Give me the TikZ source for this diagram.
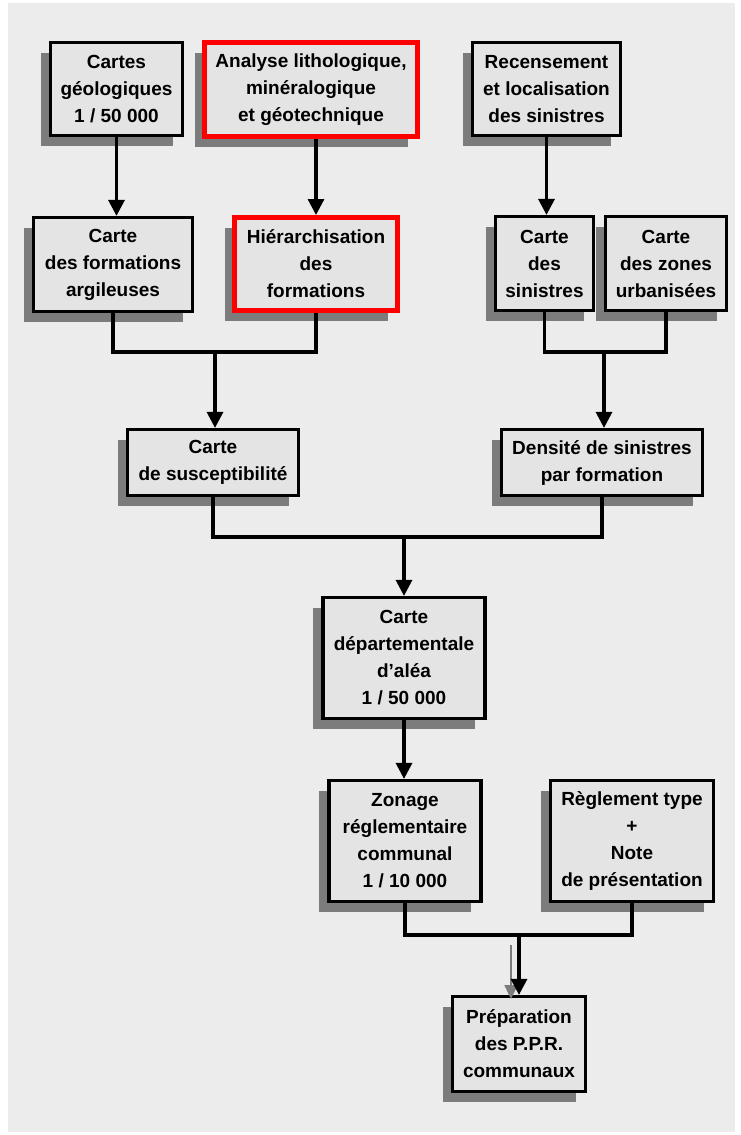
\documentclass[tikz,border=0pt]{standalone}
\usepackage{fontspec}
\setmainfont{Liberation Sans}
\usepackage{xcolor}
\usepackage{tikz}
\usetikzlibrary{arrows.meta,shadows,positioning}

\definecolor{fond}{HTML}{ECECEC}
\definecolor{boite}{HTML}{E4E4E4}
\definecolor{ombre}{HTML}{7C7C7C}

\begin{document}
\begin{tikzpicture}[x=1pt, y=-1pt,
  box/.style={rectangle, draw, line width=3.2pt, fill=boite,
              font=\fontsize{19}{27}\selectfont\bfseries, align=center,
              inner sep=2pt,
              drop shadow={shadow xshift=-10pt, shadow yshift=-10pt,
                           fill=ombre, opacity=1}},
  redbox/.style={box, draw=red, line width=5pt},
  lien/.style={line width=3.2pt},
  arr/.style={lien, -{Triangle[width=16pt,length=16pt]}}
]
\useasboundingbox (0,0) rectangle (740,1135);
\fill[fond] (8,3) rectangle (735,1132);

\node[box, minimum width=132pt, minimum height=93pt] (geo) at (116.5,89) {
  Cartes\\
  géologiques\\
  1 / 50 000
};
\node[redbox, minimum width=213pt, minimum height=94pt] (analyse) at (311,89.5) {
  Analyse lithologique,\\
  minéralogique\\
  et géotechnique
};
\node[box, minimum width=148pt, minimum height=93pt] (recens) at (546.5,89) {
  Recensement\\
  et localisation\\
  des sinistres
};

\node[box, minimum width=159pt, minimum height=94pt] (argil) at (113,264.5) {
  Carte\\
  des formations\\
  argileuses
};
\node[redbox, minimum width=163pt, minimum height=93pt] (hier) at (316,264) {
  Hiérarchisation\\
  des\\
  formations
};
\node[box, minimum width=98pt, minimum height=94pt] (sinis) at (544.5,263.5) {
  Carte\\
  des\\
  sinistres
};
\node[box, minimum width=121pt, minimum height=94pt] (urban) at (666,263.5) {
  Carte\\
  des zones\\
  urbanisées
};

\node[box, minimum width=171pt, minimum height=66pt] (suscept) at (213,462.5) {
  Carte\\
  de susceptibilité
};
\node[box, minimum width=201pt, minimum height=66pt] (densite) at (602,462.5) {
  Densité de sinistres\\
  par formation
};

\node[box, minimum width=162pt, minimum height=121pt] (alea) at (404,658) {
  Carte\\
  départementale\\
  d’aléa\\
  1 / 50 000
};
\node[box, minimum width=152pt, minimum height=121pt] (zonage) at (405,841) {
  Zonage\\
  réglementaire\\
  communal\\
  1 / 10 000
};
\node[box, minimum width=163pt, minimum height=121pt] (regl) at (632,841) {
  Règlement type\\
  +\\
  Note\\
  de présentation
};

\node[box, minimum width=133pt, minimum height=95pt] (ppr) at (519,1044) {
  Préparation\\
  des P.P.R.\\
  communaux
};

\coordinate (m1) at (215,352);
\coordinate (m2) at (604,352);
\coordinate (m3) at (404,537);
\coordinate (m4) at (519,935);
\coordinate (g1) at (511,945);
\coordinate (g2) at (511,999);

\draw[arr] (geo) -- (geo |- argil.north);
\draw[arr] (hier |- analyse.south) -- (hier.north);
\draw[arr] (recens) -- (recens |- sinis.north);

\draw[lien] (argil.south) |- (m1) -| (hier.south);
\draw[arr] (m1) -- (m1 |- suscept.north);
\draw[lien] (sinis.south) |- (m2) -| (urban.south);
\draw[arr] (m2) -- (m2 |- densite.north);

\draw[lien] (suscept.south) |- (m3) -| (densite.south);
\draw[arr] (m3) -- (m3 |- alea.north);
\draw[arr] (alea) -- (alea |- zonage.north);

\draw[lien] (zonage.south) |- (m4) -| (regl.south);
\draw[line width=2.4pt, draw=ombre, -{Triangle[width=13pt,length=14pt]}] (g1) -- (g2);
\draw[arr] (m4) -- (m4 |- ppr.north);
\end{tikzpicture}
\end{document}
